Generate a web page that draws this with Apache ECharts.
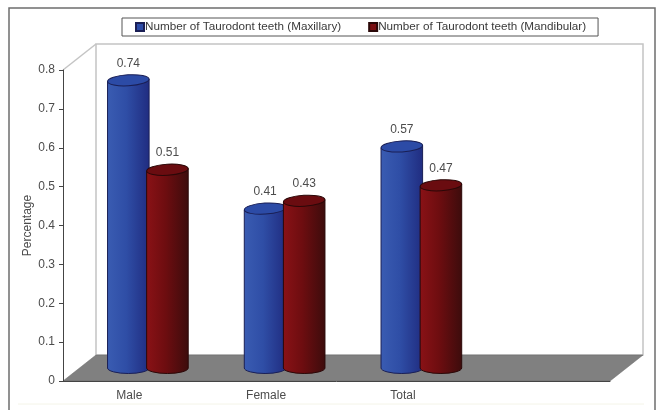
<!DOCTYPE html>
<html>
<head>
<meta charset="utf-8">
<style>
html, body { margin: 0; padding: 0; background: #fff; }
#chart { width: 658px; height: 410px; }
</style>
<script src="https://cdn.jsdelivr.net/npm/echarts@6/dist/echarts.min.js"></script>
</head>
<body>
<div id="chart"></div>
<script>
var categories = ['Male', 'Female', 'Total', ''];
var maxillary = [0.74, 0.41, 0.57];
var mandibular = [0.51, 0.43, 0.47];
var yTicks = { min: 0, max: 0.8, step: 0.1 };

var nameMax = 'Number of Taurodont teeth (Maxillary)';
var nameMan = 'Number of Taurodont teeth (Mandibular)';
var fontName = '"Liberation Sans", Arial, sans-serif';
var textColor = '#4c4c4c';

// fake 3d box depth
var depthX = 33;
var depthY = -26;
var tilt = 0.06;

function boxBack(params, api) {
    var c = params.coordSys;
    var l = c.x, r = c.x + c.width, t = c.y, b = c.y + c.height;
    var wallStyle = { stroke: '#c4c4c4', lineWidth: 1.5, fill: 'none' };
    return {
        type: 'group',
        children: [
            {
                type: 'polygon',
                shape: { points: [[l + depthX, t + depthY], [r + depthX, t + depthY], [r + depthX, b + depthY], [l + depthX, b + depthY]] },
                style: { fill: '#fff', stroke: '#c4c4c4', lineWidth: 1.5 }
            },
            {
                type: 'line',
                shape: { x1: l, y1: t, x2: l + depthX, y2: t + depthY },
                style: wallStyle
            },
            {
                type: 'polygon',
                shape: { points: [[l, b], [l + depthX, b + depthY], [r + depthX, b + depthY], [r, b]] },
                style: { fill: '#808080', stroke: '#666', lineWidth: 0.5 }
            }
        ]
    };
}

function cylinder(colors, offset) {
    return function (params, api) {
        var idx = api.value(0);
        var val = api.value(1);
        var band = api.size([1, 0])[0];
        var base = api.coord([idx, 0]);
        var top = api.coord([idx, val]);
        var rx = band * 0.152;
        var ry = 5.5;
        var cx = base[0] + depthX / 2 + band * offset;
        var by = base[1] + depthY / 2;
        var ty = top[1] + depthY / 2;
        var lean = rx * tilt;
        var grad = new echarts.graphic.LinearGradient(0, 0, 1, 0, [
            { offset: 0, color: colors[0] },
            { offset: 0.45, color: colors[1] },
            { offset: 1, color: colors[2] }
        ]);
        var body = 'M' + (cx - rx) + ' ' + (ty + lean) + 'L' + (cx - rx) + ' ' + by +
            'A' + rx + ' ' + ry + ' 0 0 0 ' + (cx + rx) + ' ' + by +
            'L' + (cx + rx) + ' ' + (ty - lean) + 'Z';
        return {
            type: 'group',
            children: [
                {
                    type: 'path',
                    shape: { pathData: body },
                    style: { fill: grad, stroke: colors[3], lineWidth: 1 }
                },
                {
                    type: 'ellipse',
                    shape: { cx: cx, cy: ty, rx: rx, ry: ry },
                    originX: cx,
                    originY: ty,
                    rotation: tilt,
                    style: { fill: colors[4], stroke: colors[3], lineWidth: 1 }
                },
                {
                    type: 'text',
                    style: {
                        text: String(val),
                        x: cx,
                        y: ty - 17,
                        align: 'center',
                        verticalAlign: 'middle',
                        fill: textColor,
                        font: '12px ' + fontName
                    }
                }
            ]
        };
    };
}

function toPoints(list) {
    var out = [];
    for (var i = 0; i < list.length; i++) {
        out.push([i, list[i]]);
    }
    return out;
}

var myChart = echarts.init(document.getElementById('chart'), null, { renderer: 'canvas' });

var option = {
    animation: false,
    backgroundColor: '#fff',
    textStyle: { fontFamily: fontName },
    graphic: [
        {
            type: 'rect',
            shape: { x: 9, y: 8, width: 646, height: 430 },
            style: { fill: 'none', stroke: '#6e6e6e', lineWidth: 1.5 },
            silent: true,
            z: -10
        },
        {
            type: 'line',
            shape: { x1: 18, y1: 404, x2: 644, y2: 404 },
            style: { stroke: '#f4f4e8', lineWidth: 1 },
            silent: true,
            z: -10
        }
    ],
    legend: {
        data: [nameMax, nameMan],
        left: 122,
        top: 18,
        padding: [3, 12, 3, 13],
        itemWidth: 8,
        itemHeight: 8,
        itemGap: 27,
        borderColor: '#555',
        borderWidth: 1,
        backgroundColor: '#fff',
        icon: 'rect',
        selectedMode: false,
        textStyle: { color: '#3a3a3a', fontSize: 11.7, fontFamily: fontName, padding: [0, 0, 0, -4] }
    },
    grid: { left: 63, right: 48, top: 70, bottom: 29 },
    xAxis: {
        type: 'category',
        data: categories,
        axisLine: { lineStyle: { color: '#444', width: 1 } },
        axisTick: { length: 5, lineStyle: { color: '#444' } },
        axisLabel: { color: textColor, fontSize: 12, margin: 9, padding: [0, 4, 0, 0], interval: 0 }
    },
    yAxis: {
        type: 'value',
        min: yTicks.min,
        max: yTicks.max,
        interval: yTicks.step,
        name: 'Percentage',
        nameLocation: 'middle',
        nameRotate: 90,
        nameGap: 29,
        nameMoveOverlap: false,
        nameTextStyle: { color: textColor, fontSize: 12 },
        splitLine: { show: false },
        axisLine: { show: true, lineStyle: { color: '#444', width: 1 } },
        axisTick: { show: true, length: 4, lineStyle: { color: '#444' } },
        axisLabel: { color: textColor, fontSize: 12, margin: 8 }
    },
    series: [
        {
            name: 'box',
            type: 'custom',
            renderItem: boxBack,
            data: [[0, 0]],
            silent: true,
            z: -1
        },
        {
            name: nameMax,
            type: 'custom',
            renderItem: cylinder(['#3a5cb2', '#2f4ea6', '#202c80', '#1a1f55', '#2c4ba6'], -0.143),
            itemStyle: { color: '#2c4ba6', borderColor: '#1a1f55', borderWidth: 1 },
            encode: { x: 0, y: 1 },
            data: toPoints(maxillary),
            z: 2
        },
        {
            name: nameMan,
            type: 'custom',
            renderItem: cylinder(['#8a1216', '#6e0d10', '#3c0c0c', '#2a0808', '#6a0c10'], 0.143),
            itemStyle: { color: '#7a0f12', borderColor: '#2a0808', borderWidth: 1 },
            encode: { x: 0, y: 1 },
            data: toPoints(mandibular),
            z: 3
        }
    ]
};

myChart.setOption(option);
</script>
</body>
</html>
